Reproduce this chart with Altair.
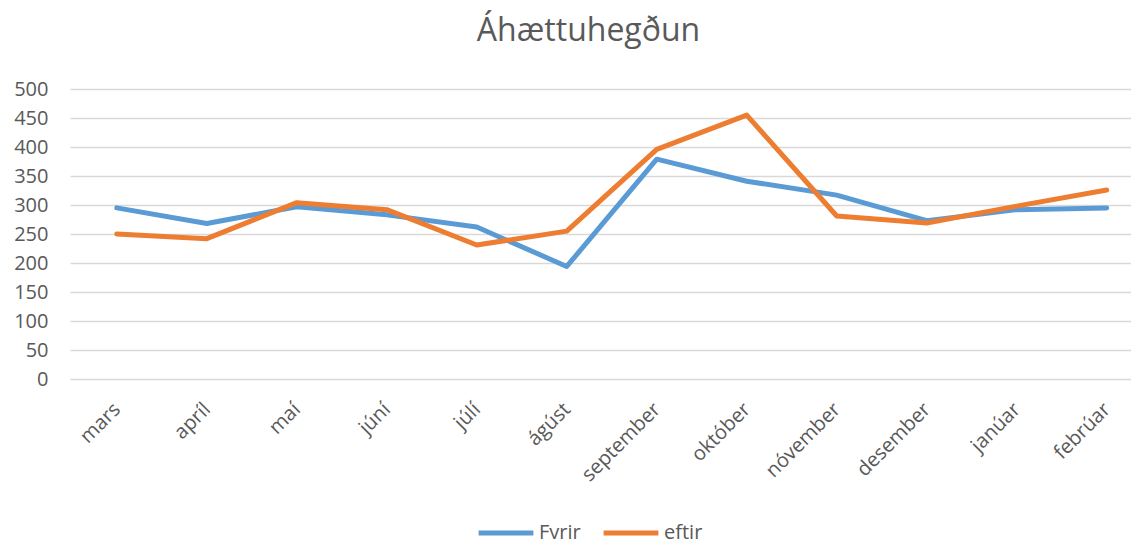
import altair as alt
import pandas as pd

months = ["mars", "apríl", "maí", "júní", "júlí", "ágúst", "september",
          "október", "nóvember", "desember", "janúar", "febrúar"]
fyrir = [295, 268, 297, 283, 262, 194, 379, 341, 317, 273, 292, 295]
eftir = [250, 242, 304, 292, 231, 255, 396, 455, 281, 269, 298, 326]
series = ["Fyrir", "eftir"]
colors = ["#5B9BD5", "#ED7D31"]

rows = []
for i, m in enumerate(months):
    rows.append({"mánuður": m, "röð": series[0], "gildi": fyrir[i], "i": i})
    rows.append({"mánuður": m, "röð": series[1], "gildi": eftir[i], "i": i})
df = pd.DataFrame(rows)

FONT = "Open Sans"
GREY = "#595959"
label_expr = "[" + ",".join("'" + m + "'" for m in months) + "][datum.value]"

chart = alt.Chart(df).mark_line(strokeWidth=5, strokeCap="round", strokeJoin="round").encode(
    x=alt.X("i:Q",
            scale=alt.Scale(domain=[-0.52, 11.27], nice=False, zero=False),
            axis=alt.Axis(title=None, labelAngle=-45, domain=False, ticks=False,
                          values=list(range(12)), labelExpr=label_expr,
                          labelFontSize=20, labelColor=GREY, labelFont=FONT,
                          labelPadding=27, grid=False, labelAlign="right",
                          labelBaseline="middle", labelFlush=False, labelOverlap=False)),
    y=alt.Y("gildi:Q", scale=alt.Scale(domain=[0, 500]),
            axis=alt.Axis(title=None, values=list(range(0, 501, 50)), domain=False,
                          ticks=False, labelFontSize=20, labelColor=GREY, labelFont=FONT,
                          labelPadding=22, gridColor="#d9d9d9", gridWidth=1.5)),
    color=alt.Color("röð:N", sort=series,
                    scale=alt.Scale(domain=series, range=colors),
                    legend=alt.Legend(title=None, orient="none", direction="horizontal",
                                      legendX=406, legendY=414,
                                      symbolType="stroke", symbolSize=3000,
                                      symbolStrokeWidth=5, labelFontSize=20,
                                      labelColor=GREY, labelFont=FONT,
                                      columnPadding=12, labelOffset=3)),
    detail="röð:N",
).properties(
    width=1061,
    height=290,
    padding={"left": 62, "top": 81, "right": 0, "bottom": 160},
    autosize=alt.AutoSizeParams(type="none"),
    title=alt.TitleParams("Áhættuhegðun", fontSize=32, font=FONT, color=GREY,
                          fontWeight="normal", anchor="middle", dx=-12, offset=31),
).configure_view(stroke=None)

chart.save("out.html", embed_options={"renderer": "svg", "actions": False})
